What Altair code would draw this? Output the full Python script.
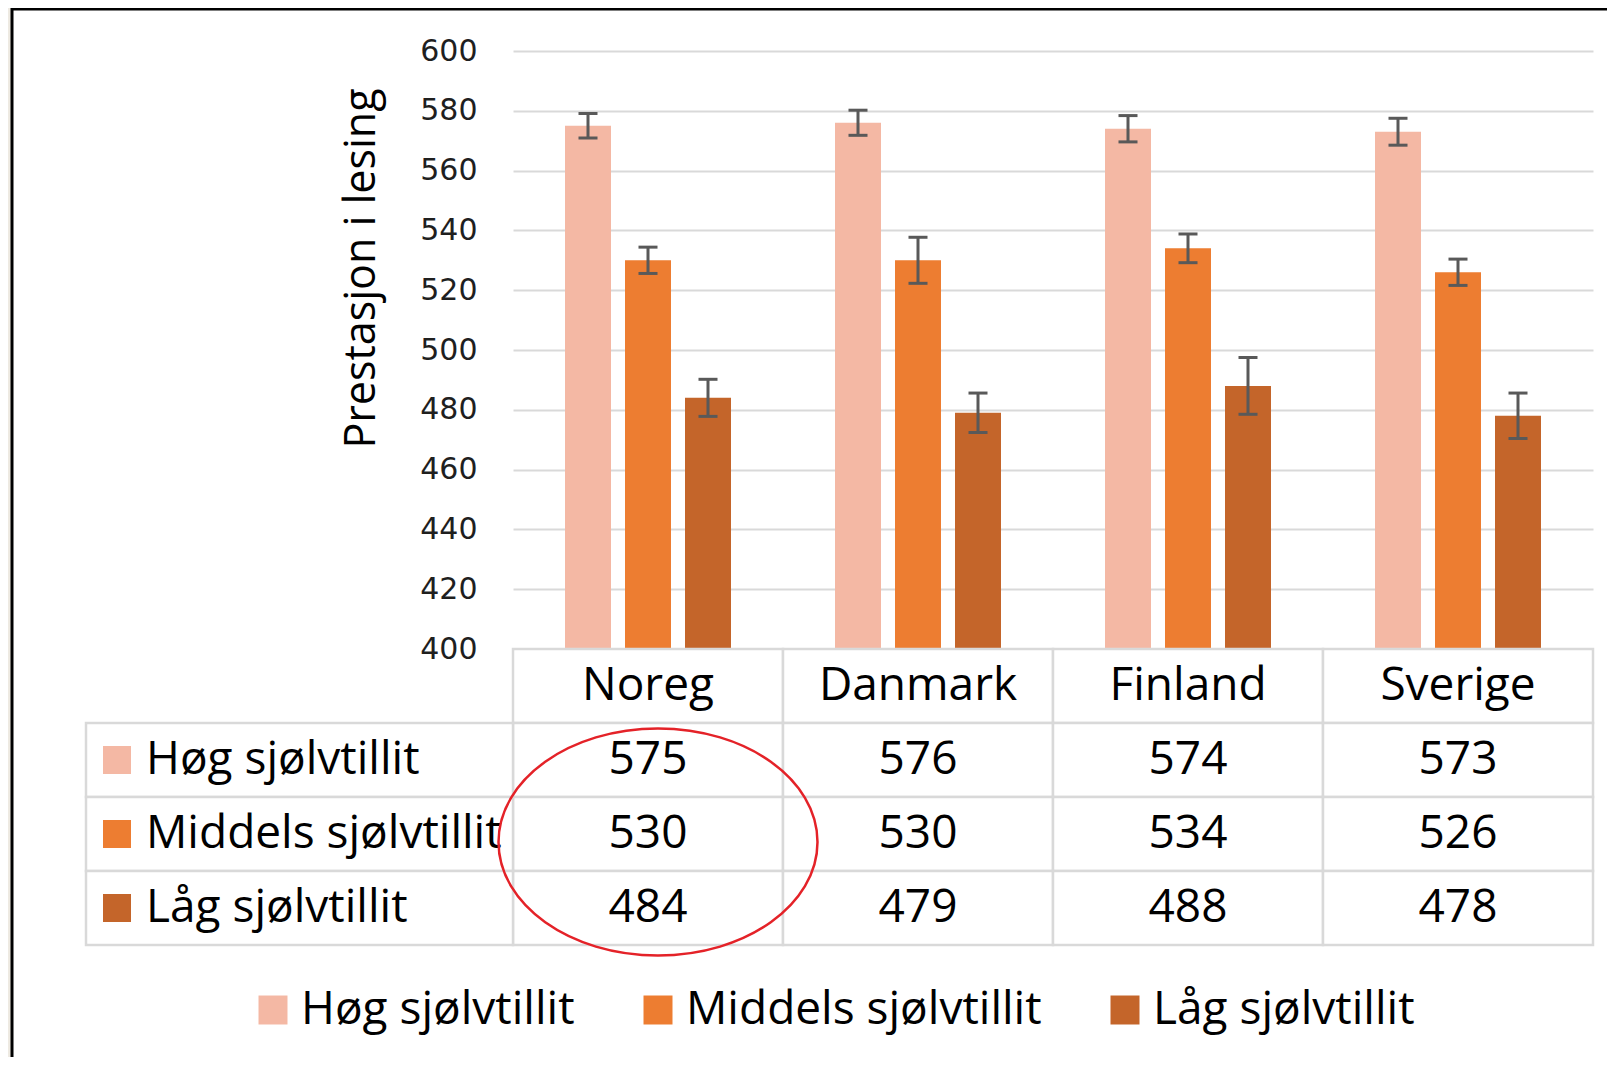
import altair as alt
import pandas as pd

# ---------------- data ----------------
countries = ["Noreg", "Danmark", "Finland", "Sverige"]
groups = ["Høg sjølvtillit", "Middels sjølvtillit", "Låg sjølvtillit"]
hog = [575, 576, 574, 573]
middels = [530, 530, 534, 526]
lag = [484, 479, 488, 478]
err_hog = [4.1, 4.2, 4.4, 4.5]
err_middels = [4.4, 7.7, 4.8, 4.4]
err_lag = [6.2, 6.6, 9.5, 7.6]
y_ticks = [400, 420, 440, 460, 480, 500, 520, 540, 560, 580, 600]
y_title = "Prestasjon i lesing"
highlight_country = "Noreg"

# ---------------- styles ----------------
colors = ["#F4B8A4", "#ED7D31", "#C4652A"]
ERR_COLOR = "#595959"
GRID_COLOR = "#D9D9D9"
TEXT_FONT = "Open Sans"
TICK_FONT = "DejaVu Sans"
RED = "#E42228"
BEIGE = "#EEEAE2"

# ---------------- layout ----------------
PLOT_W = 1080
PLOT_H = 1000
BAR_RANGE = [598, 0]
TABLE_TOP, TABLE_BOTTOM = 598, 894
LABEL_COL_PX = 427
col_px = PLOT_W / len(countries)
label_units = LABEL_COL_PX / col_px

series = [hog, middels, lag]
errs = [err_hog, err_middels, err_lag]

bar_rows = []
for gi, g in enumerate(groups):
    for ci, c in enumerate(countries):
        v = series[gi][ci]
        e = errs[gi][ci]
        bar_rows.append({"country": c, "group": g, "value": v, "lo": v - e, "hi": v + e})
bar_df = pd.DataFrame(bar_rows)

cells = []
for ci, c in enumerate(countries):
    cells.append({"x0": ci, "x1": ci + 1, "r0": 0, "r1": 1, "text": c})
for gi, g in enumerate(groups):
    for ci, c in enumerate(countries):
        cells.append({"x0": ci, "x1": ci + 1, "r0": gi + 1, "r1": gi + 2, "text": str(series[gi][ci])})
cell_df = pd.DataFrame(cells)
cell_df["xc"] = (cell_df["x0"] + cell_df["x1"]) / 2
cell_df["rc"] = (cell_df["r0"] + cell_df["r1"]) / 2

label_df = pd.DataFrame([
    {"x0": -label_units, "x1": 0, "r0": gi + 1, "r1": gi + 2, "rc": gi + 1.5, "text": g, "fill": colors[gi]}
    for gi, g in enumerate(groups)
])
rect_df = pd.concat([cell_df[["x0", "x1", "r0", "r1"]], label_df[["x0", "x1", "r0", "r1"]]], ignore_index=True)

ellipse_df = pd.DataFrame([{
    "xc": countries.index(highlight_country) + 0.5,
    "rc": 1 + len(groups) / 2,
}])

# ---------------- bar part ----------------
xb = alt.X("country:N", sort=countries,
           scale=alt.Scale(domain=countries, paddingInner=1 / 3, paddingOuter=1 / 6), axis=None)
xo = alt.XOffset("group:N", sort=groups,
                 scale=alt.Scale(domain=groups, paddingInner=14 / 60, paddingOuter=7 / 60))

y_axis = alt.Axis(orient="left", values=y_ticks, grid=True, gridColor=GRID_COLOR, gridWidth=2,
                  domain=False, ticks=False, tickSize=0,
                  labelFont=TICK_FONT, labelFontSize=30, labelColor="#1F1F1F", labelPadding=36,
                  titleFont=TEXT_FONT, titleFontSize=43, titleFontWeight="normal", titleColor="#000000",
                  titleAngle=270, titleX=-152, titleY=217, titleAlign="center", titleBaseline="middle")


def ybar(field):
    return alt.Y(field, type="quantitative",
                 scale=alt.Scale(domain=[y_ticks[0], y_ticks[-1]], range=BAR_RANGE, nice=False, zero=False),
                 axis=y_axis, title=y_title)


legend = alt.Legend(title=None, orient="none", legendX=-263, legendY=936, direction="horizontal",
                    symbolType="square", symbolSize=841, symbolStrokeWidth=0, symbolOpacity=1,
                    labelFont=TEXT_FONT, labelFontSize=46, labelColor="#000000", labelOffset=5,
                    labelLimit=1000, columnPadding=60, padding=0)

bars = alt.Chart(bar_df).mark_bar().encode(
    x=xb, xOffset=xo, y=ybar("value"), y2=alt.datum(y_ticks[0]),
    color=alt.Color("group:N", sort=groups, scale=alt.Scale(domain=groups, range=colors), legend=legend),
)
rules = alt.Chart(bar_df).mark_rule(color=ERR_COLOR, strokeWidth=3).encode(
    x=xb, xOffset=xo, y=ybar("lo"), y2="hi:Q",
)
caps = alt.Chart(bar_df).transform_fold(["lo", "hi"], as_=["end", "v"]).mark_tick(
    color=ERR_COLOR, thickness=3, size=19, opacity=1
).encode(x=xb, xOffset=xo, y=ybar("v"))

bar_group = alt.layer(bars, rules, caps)

# ---------------- table part ----------------
def tx(field):
    return alt.X(field, type="quantitative",
                 scale=alt.Scale(domain=[0, len(countries)], nice=False, zero=False), axis=None)


def ty(field):
    return alt.Y(field, type="quantitative",
                 scale=alt.Scale(domain=[0, len(groups) + 1], range=[TABLE_TOP, TABLE_BOTTOM],
                                 nice=False, zero=False), axis=None)


rects = alt.Chart(rect_df).mark_rect(fill="white", stroke=GRID_COLOR, strokeWidth=2.5).encode(
    x=tx("x0"), x2="x1:Q", y=ty("r0"), y2="r1:Q")
texts = alt.Chart(cell_df).mark_text(font=TEXT_FONT, fontSize=46, color="#000000",
                                     align="center", baseline="middle").encode(
    x=tx("xc"), y=ty("rc"), text="text:N")
labels = alt.Chart(label_df).mark_text(font=TEXT_FONT, fontSize=46, color="#000000",
                                       align="left", baseline="middle", dx=60).encode(
    x=tx("x0"), y=ty("rc"), text="text:N")
squares = alt.Chart(label_df).mark_square(size=784, xOffset=31, opacity=1).encode(
    x=tx("x0"), y=ty("rc"), color=alt.Color("fill:N", scale=None))

ELLIPSE = ("M -1 0 C -1 -0.393 -0.552 -0.7116 0 -0.7116 C 0.552 -0.7116 1 -0.393 1 0 "
           "C 1 0.393 0.552 0.7116 0 0.7116 C -0.552 0.7116 -1 0.393 -1 0 Z")
ellipse = alt.Chart(ellipse_df).mark_point(shape=ELLIPSE, size=319 ** 2, filled=False, color=RED,
                                           strokeWidth=2.5, opacity=1, xOffset=10, yOffset=8).encode(
    x=tx("xc"), y=ty("rc"))

table_group = alt.layer(rects, texts, labels, squares, ellipse)

# ---------------- frame (slide panel edge) ----------------
one = pd.DataFrame({"a": [0]})
beige_strip = alt.Chart(one).mark_rect(fill=BEIGE).encode(
    x=alt.value(-510), x2=alt.value(-501), y=alt.value(-50), y2=alt.value(PLOT_H + 50))
frame = alt.Chart(one).mark_rect(fill="white", fillOpacity=0, stroke="black", strokeWidth=3).encode(
    x=alt.value(-501), x2=alt.value(PLOT_W + 200), y=alt.value(-42), y2=alt.value(PLOT_H + 200))

chart = alt.layer(beige_strip, frame, bar_group, table_group).resolve_scale(
    x="independent", y="independent"
).properties(
    width=PLOT_W, height=PLOT_H,
    autosize=alt.AutoSizeParams(type="none"),
    padding={"left": 505, "top": 43, "right": 14, "bottom": 6},
    background="white",
).configure_view(stroke=None)

chart.save("out.html", embed_options={"renderer": "svg", "actions": False})
